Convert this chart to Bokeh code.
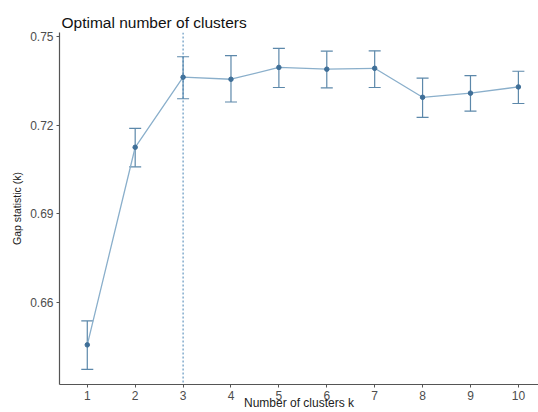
from bokeh.plotting import figure
from bokeh.models import ColumnDataSource, Whisker, Span, Range1d, FixedTicker, TeeHead
from bokeh.embed import file_html
from bokeh.resources import INLINE

k = [1, 2, 3, 4, 5, 6, 7, 8, 9, 10]
gap = [0.6457, 0.7125, 0.7362, 0.7355, 0.7395, 0.7389, 0.7392, 0.7294, 0.7308, 0.7329]
upper = [0.6538, 0.7189, 0.7431, 0.7435, 0.7459, 0.7450, 0.7451, 0.7359, 0.7367, 0.7382]
lower = [0.6374, 0.7059, 0.7289, 0.7278, 0.7327, 0.7326, 0.7327, 0.7226, 0.7247, 0.7273]
optimal_k = 3
y_ticks = [0.66, 0.69, 0.72, 0.75]

src = ColumnDataSource(dict(k=k, gap=gap, upper=upper, lower=lower))

p = figure(width=538, height=412, output_backend="svg", toolbar_location=None,
           x_range=Range1d(0.42, 10.42), y_range=Range1d(0.6323, 0.7513),
           min_border_left=59, min_border_right=0, min_border_top=32, min_border_bottom=26,
           title="Optimal number of clusters")
p.title.text_font = "Liberation Sans"
p.title.text_font_size = "15.5px"
p.title.text_font_style = "normal"
p.title.text_color = "#111111"
p.title.offset = 2
p.title.standoff = 4

p.outline_line_color = None
p.grid.visible = False
p.background_fill_color = "white"
p.border_fill_color = "white"

for ax in (p.xaxis, p.yaxis):
    ax.axis_line_color = "#555555"
    ax.axis_line_width = 1.2
    ax.major_tick_line_color = "#555555"
    ax.major_tick_out = 3
    ax.major_tick_in = 0
    ax.minor_tick_line_color = None
    ax.major_label_text_font = "Liberation Sans"
    ax.major_label_text_font_size = "12px"
    ax.major_label_text_color = "#4D4D4D"
    ax.major_label_standoff = 3

p.xaxis.major_label_standoff = 3
p.xaxis.ticker = FixedTicker(ticks=k)
p.xaxis.axis_label = "Number of clusters k"
p.xaxis.axis_label_text_font = "Liberation Sans"
p.xaxis.axis_label_text_font_size = "12px"
p.xaxis.axis_label_text_font_style = "normal"
p.xaxis.axis_label_text_color = "#222222"
p.xaxis.axis_label_standoff = -7

p.yaxis.ticker = FixedTicker(ticks=y_ticks)
p.yaxis.axis_label = "Gap statistic (k)"
p.yaxis.axis_label_text_font = "Liberation Sans"
p.yaxis.axis_label_text_font_size = "10.5px"
p.yaxis.axis_label_text_font_style = "normal"
p.yaxis.axis_label_text_color = "#222222"
p.yaxis.axis_label_standoff = 4

p.add_layout(Span(location=optimal_k, dimension="height", line_color="#4682B4",
                  line_dash="2 2", line_width=1))

p.line("k", "gap", source=src, line_color="#8AAFCB", line_width=1.3)
w = Whisker(base="k", upper="upper", lower="lower", source=src,
            line_color="#5C88AA", line_width=1.2,
            upper_head=TeeHead(size=12, line_color="#5C88AA", line_width=1.2),
            lower_head=TeeHead(size=12, line_color="#5C88AA", line_width=1.2))
p.add_layout(w)
p.scatter("k", "gap", source=src, size=4.5, fill_color="#3F6F98", line_color="#3F6F98")

open("out.html", "w").write(file_html(p, INLINE))
